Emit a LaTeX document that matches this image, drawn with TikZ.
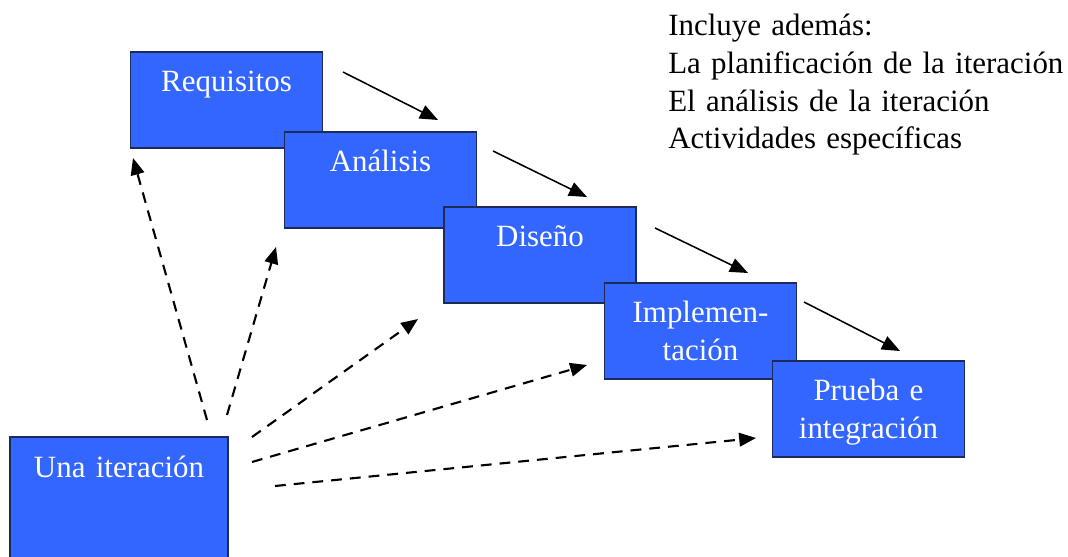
\documentclass[tikz,border=0pt]{standalone}
\usepackage{fontspec}
\setmainfont{Liberation Serif}
\usetikzlibrary{arrows.meta}
\definecolor{phaseblue}{HTML}{3366FF}
\definecolor{phaseedge}{HTML}{1C2B5A}
\tikzset{
  phase/.style={draw=phaseedge, fill=phaseblue, line width=1pt, minimum width=4.8cm, minimum height=2.4cm, inner sep=0pt},
  phasetxt/.style={font=\fontsize{22}{27}\selectfont, text=white, text width=4.6cm, align=center, anchor=base, inner sep=0pt},
  notetxt/.style={font=\fontsize{22}{26.7}\selectfont, text=black, text width=10cm, align=left, anchor=base west, inner sep=0pt},
  flow/.style={-{Triangle[length=0.45cm, width=0.36cm]}, line width=1.1pt, color=black},
  iter/.style={-{Triangle[length=0.42cm, width=0.34cm]}, line width=1.5pt, color=black, dash pattern=on 0.27cm off 0.2cm}
}

\begin{document}
\begin{tikzpicture}[x=0.025cm,y=-0.025cm]
\useasboundingbox (0,0) rectangle (1068,557);

% ---------------- Phases ----------------
\node[phase] (req) at (226.5,100) {};
\node[phasetxt] (req-t) at ([yshift=-1.0cm]req.north) {Requisitos};

\node[phase] (ana) at (380.5,180) {};
\node[phasetxt] (ana-t) at ([yshift=-1.0cm]ana.north) {Análisis};

\node[phase] (dis) at (540,255) {};
\node[phasetxt] (dis-t) at ([yshift=-1.0cm]dis.north) {Diseño};

\node[phase] (imp) at (700.5,331) {};
\node[phasetxt] (imp-t) at ([yshift=-1.0cm]imp.north) {Implemen-\\tación};

\node[phase] (pru) at (868.5,409) {};
\node[phasetxt] (pru-t) at ([yshift=-1.0cm]pru.north) {Prueba e\\integración};

% ---------------- Iteration ----------------
\node[phase, minimum width=5.45cm, minimum height=3.1cm] (una) at (119,499) {};
\node[phasetxt, text width=5.3cm] (una-t) at ([yshift=-1.02cm]una.north) {Una iteración};

% ---------------- Note ----------------
\node[notetxt] (note) at (668,36) {Incluye además:\\La planificación de la iteración\\El análisis de la iteración\\Actividades específicas};

% ---------------- Flow arrows ----------------
\coordinate (f1a) at (343,72);  \coordinate (f1b) at (438,120);
\coordinate (f2a) at (493,151); \coordinate (f2b) at (587,197);
\coordinate (f3a) at (655,228); \coordinate (f3b) at (748,273);
\coordinate (f4a) at (804,302); \coordinate (f4b) at (900,351);
\draw[flow] (f1a) -- (f1b);
\draw[flow] (f2a) -- (f2b);
\draw[flow] (f3a) -- (f3b);
\draw[flow] (f4a) -- (f4b);

% ---------------- Iteration arrows ----------------
\coordinate (i1a) at (207,420); \coordinate (i1b) at (133,158);
\coordinate (i2a) at (227,415); \coordinate (i2b) at (276,247);
\coordinate (i3a) at (252,437); \coordinate (i3b) at (418,319);
\coordinate (i4a) at (252,462); \coordinate (i4b) at (587,365);
\coordinate (i5a) at (275,486); \coordinate (i5b) at (756,438);
\draw[iter] (i1a) -- (i1b);
\draw[iter] (i2a) -- (i2b);
\draw[iter] (i3a) -- (i3b);
\draw[iter] (i4a) -- (i4b);
\draw[iter] (i5a) -- (i5b);

\end{tikzpicture}
\end{document}
